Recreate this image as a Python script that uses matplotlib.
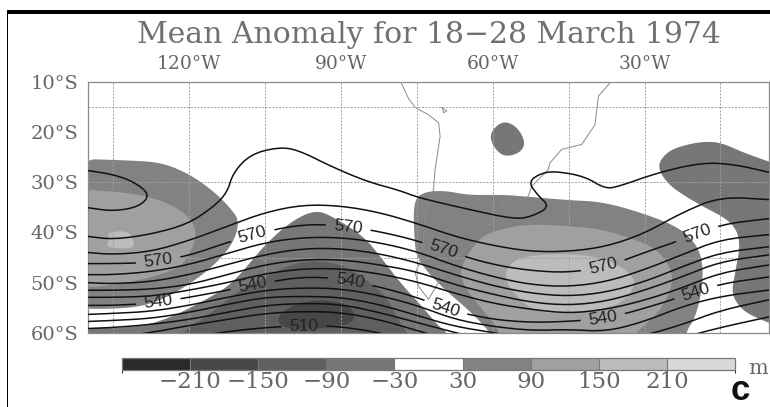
import numpy as np
import matplotlib
matplotlib.use("Agg")
import matplotlib.pyplot as plt
from matplotlib.colors import ListedColormap, BoundaryNorm
from matplotlib.cm import ScalarMappable
from matplotlib.patches import Rectangle

TITLE = "Mean Anomaly for 18\u221228 March 1974"
LON_TICKS = [-120, -90, -60, -30]
LON_LABELS = ["120°W", "90°W", "60°W", "30°W"]
LAT_TICKS = [-10, -20, -30, -40, -50, -60]
LAT_LABELS = ["10°S", "20°S", "30°S", "40°S", "50°S", "60°S"]
CBAR_BOUNDS = [-270, -210, -150, -90, -30, 30, 90, 150, 210, 270]
CBAR_TICKS = [-210, -150, -90, -30, 30, 90, 150, 210]
CBAR_COLORS = ["#2a2a2a", "#474747", "#5f5f5f", "#777777", "#ffffff",
               "#828282", "#a0a0a0", "#bcbcbc", "#d8d8d8"]

# geopotential height contours (dam): latitude at each longitude
H_LONS = [-140, -135, -127.5, -120, -112.5, -105, -97.5, -90, -82.5, -75,
          -67.5, -60, -52.5, -45, -37.5, -30, -22.5, -15, -5]
H_576 = [44.0,44.4,43.8,41.6,38.8,36.0,34.5,34.7,36.0,38.2,40.8,42.6,43.8,43.8,42.8,40.2,36.0,32.9,33.5]
H_570 = [46.2,46.2,46.0,44.6,42.0,39.8,38.4,38.6,39.8,41.6,44.2,46.4,47.6,48.0,46.8,44.0,41.4,38.4,37.2]
H_564 = [48.4,48.4,47.8,46.4,44.2,42.0,41.0,41.0,42.0,43.8,46.6,48.8,50.4,50.8,49.8,47.4,44.4,41.4,40.4]
H_558 = [50.0,50.2,49.8,48.4,46.4,44.4,43.2,43.2,44.2,46.0,48.4,50.6,52.1,52.7,51.9,49.8,46.8,44.0,42.8]
H_552 = [51.5,51.5,51.3,50.4,48.4,46.4,45.4,45.4,46.4,47.8,50.4,52.3,53.9,54.5,53.7,51.5,48.8,45.8,44.4]
H_546 = [52.9,52.9,52.7,51.5,50.0,48.2,47.2,47.2,48.2,49.8,52.1,54.1,55.3,56.1,55.3,53.5,51.0,48.0,46.4]
H_540 = [54.5,54.5,54.1,52.9,51.5,50.0,48.8,49.2,50.8,52.9,55.7,57.3,57.9,57.7,57.1,55.1,52.7,50.2,48.8]
H_534 = [56.3,56.1,55.7,54.5,52.9,51.5,51.0,51.2,52.5,54.5,57.3,58.7,59.5,59.3,59.7,57.7,54.7,52.7,51.4]
H_528 = [57.7,57.5,57.1,55.9,54.3,52.9,52.7,52.9,54.3,56.5,58.7,59.9,61.3,61.7,61.3,60.5,58.3,55.5,53.3]
H_522 = [59.1,58.9,58.3,57.3,55.9,54.5,54.1,54.3,55.9,57.9,59.9,61.7,62.9,63.3,63.3,62.3,60.9,58.9,56.7]
H_516 = [61.3,60.9,59.9,58.5,57.3,56.1,55.7,55.9,57.3,59.5,61.7,63.3,64.9,65.3,65.3,64.5,63.3,61.7,60.3]
H_510 = [63.3,62.5,61.7,60.9,59.7,58.9,58.5,58.7,59.9,61.7,63.7,65.3,66.5,66.9,66.9,66.1,64.9,63.3,62.3]
H_504 = [70.0]*19
H_LEVELS = [576, 570, 564, 558, 552, 546, 540, 534, 528, 522, 516, 510, 504]
H_ROWS = [H_576, H_570, H_564, H_558, H_552, H_546, H_540, H_534, H_528, H_522, H_516, H_510, H_504]
LABELLED = [510, 540, 570]
LABEL_LON = [-126.1, -107.4, -88.6, -69.8, -38.2, -19.6, -126.1, -107.4, -88.2, -69.4, -38.2, -20.0, -97.3]
LABEL_LAT = [-45.8, -40.8, -39.2, -43.8, -46.8, -40.4, -53.9, -50.8, -50.2, -55.3, -57.1, -51.5, -58.7]

# 582 dam line, which folds back on itself
TOP_LON = [-140,-135,-127.7,-120.4,-115.3,-112.5,-111.3,-107.9,-102.6,-98.7,-91.5,-84.8,-78.3,-74.7,-64.9,-55.6,-52.2,-48.7,-51.2,-53.0,-50.2,-47.1,-41.8,-37.8,-35.2,-27.3,-18.6,-12.1,-5.2]
TOP_LAT = [-40.8,-41.4,-40.4,-38.4,-35.0,-32.1,-28.1,-24.5,-23.1,-23.5,-27.1,-29.9,-31.7,-33.1,-35.4,-37.4,-36.8,-34.9,-32.5,-29.9,-28.1,-27.9,-28.9,-31.3,-30.9,-28.1,-26.1,-26.5,-28.1]
LOOP_LON = [-140,-135,-131,-127.7,-129.9,-135,-140]
LOOP_LAT = [-27.7,-28.5,-29.9,-32.5,-34.9,-35.8,-35.1]

# anomaly regions
POS30A_LON = [-145,-131,-125.1,-119.8,-115.2,-111.9,-110.0,-111.4,-115.2,-120.5,-126.4,-132.3,-145]
POS30A_LAT = [-25.3,-25.7,-26.2,-28.5,-31.8,-35.1,-37.8,-42.4,-46.7,-50.7,-53.9,-55.2,-55.2]
POS90A_LON = [-145,-135.6,-129,-123.1,-119.5,-118.4,-120.5,-123.1,-131,-145]
POS90A_LAT = [-31.3,-31.8,-32.6,-34.6,-37.4,-40.8,-45.6,-47.6,-49.9,-51.6]
POS150A_LON = [-136.2,-132,-131.1,-130.8,-133,-136.5,-135.8]
POS150A_LAT = [-39.9,-39.7,-41.4,-42.9,-43.3,-42.9,-41.4]
POS30B_LON = [-75.6,-73.4,-69.4,-64.8,-58.2,-53,-45,-38.5,-31.2,-24,-20.5,-18.7,-18.4,-19.8,-22,-22,-59.5,-59.5,-74.9,-75.6]
POS30B_LAT = [-33.5,-31.9,-31.7,-32.6,-32.5,-32.9,-33.6,-33.9,-35.9,-38.6,-41.4,-44.7,-50,-56.7,-60,-65,-65,-60,-46.7,-40.1]
POS90B_LON = [-66.4,-62.8,-59.5,-53.6,-47,-39.1,-32.5,-27.7,-25.0,-24.3,-26.4,-29.9,-31.9,-31.9,-58.2,-58.2,-63,-66.1]
POS90B_LAT = [-46.7,-41.2,-39.6,-38.4,-38.6,-39.2,-41.2,-43.2,-46.7,-50,-54.9,-58.5,-60,-65,-65,-60,-54.2,-50]
POS150B_LON = [-57.9,-56.1,-51.6,-44.4,-37.8,-33.6,-31.6,-33.6,-36.5,-44.4,-51.6,-55.9]
POS150B_LAT = [-48.7,-45.5,-44.5,-44.2,-45.2,-47.4,-50,-53.2,-54.9,-56.2,-55.9,-52.2]
NEG30A_LON = [-145,-131,-124.4,-116.5,-111.2,-105.3,-100,-95.1,-91.5,-85.5,-82.3,-78.3,-74,-70.4,-68.8,-68.8,-145]
NEG30A_LAT = [-59,-59,-57.3,-53.3,-50,-42.7,-37.9,-35.5,-36.9,-40.8,-44.7,-50,-54.7,-59,-60,-65,-65]
NEG90A_LON = [-121.8,-121.8,-116.5,-110,-104.7,-99.4,-95.1,-89.5,-84.9,-80.6,-78.6,-76.7,-76.7]
NEG90A_LAT = [-65,-60,-56.7,-51.4,-48.7,-46.2,-45.6,-46.5,-49.4,-53.3,-57.7,-60,-65]
NEG150A_LON = [-103,-100,-94.8,-88.8,-86.9,-88.8,-94.8,-100.9]
NEG150A_LAT = [-57.3,-54.5,-53.3,-54.1,-56.7,-58.5,-59.2,-59.2]
NEG30B_LON = [-60.6,-59.8,-57.6,-55.0,-53.5,-54.6,-57.6,-59.5]
NEG30B_LAT = [-21.2,-19.2,-17.8,-19.2,-22.2,-24.2,-25.0,-23.5]
NEG30C_LON = [-27.6,-25.5,-22,-18,-14.7,-10.1,0,0,-8.8,-11.4,-12.8,-12.1,-11.1,-11.8,-14.1,-18,-22,-25.5]
NEG30C_LAT = [-26.8,-23.9,-22.6,-21.9,-22.2,-24.3,-27.8,-60,-56.7,-54.7,-52,-48,-42.7,-39.4,-37.1,-35.1,-32.8,-30.3]

COAST_W_LON = [-78.3,-76.7,-75.3,-72.7,-70.7,-70.4,-71.4,-71.7,-73.4,-73.7,-74.4,-75.3,-74.7,-72.7]
COAST_W_LAT = [-9.8,-13.3,-15.2,-16.6,-18.2,-20.9,-27.5,-31.5,-36.1,-41.4,-46,-48,-50.7,-53.3]
COAST_E_LON = [-36.5,-39.1,-39.8,-42.4,-46.4,-48.7,-49,-50.3,-52.3,-53,-55.6,-58.5,-56.9,-62.2,-64.1,-66.8,-68.8,-72.7]
COAST_E_LAT = [-9.9,-12.9,-18.6,-22.5,-23.5,-26.2,-27.5,-28.8,-30.8,-32.8,-34.8,-34.1,-36.1,-39.4,-42.1,-44.7,-46.7,-53.3]
ISLAND_LON = [-70,-69.1,-69.7,-70]
ISLAND_LAT = [-15.2,-15.9,-16.2,-15.2]

W, H = 770, 407
TEXT = "#666666"
SERIF = "DejaVu Serif"


def smooth(a, closed=False, n=3):
    a = np.asarray(a, float)
    for _ in range(n):
        if closed:
            b = np.roll(a, -1)
            a = np.column_stack([0.75*a + 0.25*b, 0.25*a + 0.75*b]).ravel()
        else:
            mid = np.column_stack([0.75*a[:-1] + 0.25*a[1:], 0.25*a[:-1] + 0.75*a[1:]]).ravel()
            a = np.concatenate([a[:1], mid, a[-1:]])
    return a


fig = plt.figure(figsize=(W/100, H/100), dpi=100, facecolor="white")
ax = fig.add_axes([88/W, 1-333/H, 681/W, 251.5/H])
ax.set_xlim(-140, -5.4)
ax.set_ylim(-60, -10)

regions = [
    (POS30A_LON, POS30A_LAT, CBAR_COLORS[5]), (POS90A_LON, POS90A_LAT, CBAR_COLORS[6]),
    (POS150A_LON, POS150A_LAT, CBAR_COLORS[7]),
    (POS30B_LON, POS30B_LAT, CBAR_COLORS[5]), (POS90B_LON, POS90B_LAT, CBAR_COLORS[6]),
    (POS150B_LON, POS150B_LAT, CBAR_COLORS[7]),
    (NEG30A_LON, NEG30A_LAT, CBAR_COLORS[3]), (NEG90A_LON, NEG90A_LAT, CBAR_COLORS[2]),
    (NEG150A_LON, NEG150A_LAT, CBAR_COLORS[1]),
    (NEG30B_LON, NEG30B_LAT, CBAR_COLORS[3]), (NEG30C_LON, NEG30C_LAT, CBAR_COLORS[3]),
]
for lon, lat, col in regions:
    ax.fill(smooth(lon, True), smooth(lat, True), color=col, lw=0, zorder=1)

for lon, lat in [(COAST_W_LON, COAST_W_LAT), (COAST_E_LON, COAST_E_LAT), (ISLAND_LON, ISLAND_LAT)]:
    ax.plot(lon, lat, color="#8a8a8a", lw=0.7, zorder=2)

for v in np.arange(-135, -10, 15):
    ax.axvline(v, color="#a0a0a0", lw=0.7, ls=(0, (2, 1.5)), zorder=2)
for v in (-15, -30, -45):
    ax.axhline(v, color="#a0a0a0", lw=0.7, ls=(0, (2, 1.5)), zorder=2)

X = np.array([smooth(H_LONS, n=2) for _ in H_ROWS])
Y = np.array([-smooth(r, n=2) for r in H_ROWS])
Z = np.array([np.full(X.shape[1], h, float) for h in H_LEVELS])
plain = sorted(h - 0.01 for h in H_LEVELS[:-1] if h not in LABELLED)
named = [h - 0.01 for h in LABELLED]
ax.contour(X, Y, Z, levels=plain, colors="#111111", linewidths=1.1, zorder=3)
cs = ax.contour(X, Y, Z, levels=named, colors="#111111", linewidths=1.1, zorder=3)
labels = ax.clabel(cs, inline=True, fmt="%.0f", fontsize=12.5,
                   manual=list(zip(LABEL_LON, LABEL_LAT)), inline_spacing=6)
for t in cs.labelTexts:
    t.set_fontfamily("Liberation Sans")
    t.set_color("#222222")

ax.plot(smooth(TOP_LON, n=2), smooth(TOP_LAT, n=2), color="#111111", lw=1.1, zorder=3)
ax.plot(smooth(LOOP_LON, n=2), smooth(LOOP_LAT, n=2), color="#111111", lw=1.1, zorder=3)

ax.xaxis.tick_top()
ax.set_xticks(LON_TICKS, LON_LABELS, family=SERIF, fontsize=13.5, color=TEXT)
ax.set_yticks(LAT_TICKS, LAT_LABELS, family=SERIF, fontsize=14, color=TEXT)
ax.tick_params(length=0, pad=7)
ax.tick_params(axis="x", pad=6)
for s in ax.spines.values():
    s.set_color("#8a8a8a")
    s.set_linewidth(0.9)

fig.text(428.5/W, 1-35/H, TITLE, family=SERIF, fontsize=21.5, color="#707070", ha="center", va="center")

cax = fig.add_axes([122/W, 1-370/H, 613/W, 12/H])
cmap = ListedColormap(CBAR_COLORS)
norm = BoundaryNorm(CBAR_BOUNDS, cmap.N)
cb = fig.colorbar(ScalarMappable(norm=norm, cmap=cmap), cax=cax, orientation="horizontal",
                  ticks=CBAR_TICKS, spacing="uniform", drawedges=True)
cb.ax.set_xticklabels([str(t).replace("-", "\u2212") for t in CBAR_TICKS],
                      family=SERIF, fontsize=16.5, color=TEXT)
cb.ax.tick_params(length=0, pad=1)
cb.outline.set_edgecolor("#777777")
cb.outline.set_linewidth(0.9)
cb.dividers.set_color("#777777")
cb.dividers.set_linewidth(0.8)

fig.text(748/W, 1-368/H, "m", family=SERIF, fontsize=15, color=TEXT, ha="left", va="center")
fig.text(740/W, 1-390/H, "c", family="Liberation Sans", fontsize=25, weight="bold", color="#111111",
         ha="center", va="center")

fig.add_artist(Rectangle((7/W, 1-14/H), (W-7)/W, 4/H, transform=fig.transFigure, color="black", lw=0))
fig.add_artist(Rectangle((7/W, 0), 1.3/W, 1-10/H, transform=fig.transFigure, color="black", lw=0))

fig.savefig("out.png", dpi=100, facecolor="white")
